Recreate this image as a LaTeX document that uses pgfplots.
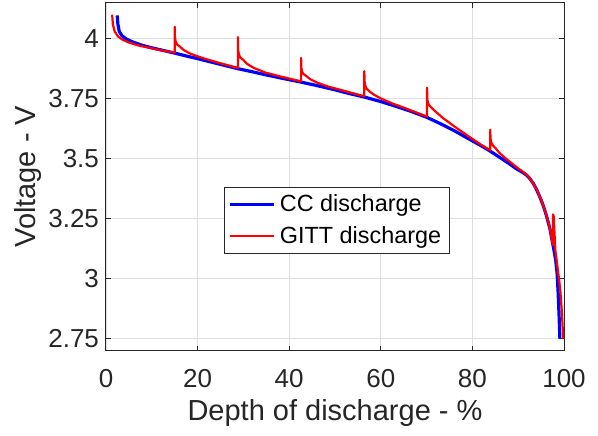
\documentclass[border=0pt]{standalone}
\usepackage{fontspec}
\setmainfont{Liberation Sans}
\usepackage{pgfplots}
\pgfplotsset{compat=1.18}
\usetikzlibrary{calc}
\definecolor{axgray}{gray}{0.15}
\definecolor{gridgray}{gray}{0.87}
\pgfplotstableread{
x y
2.45 4.097
2.6 4.06
2.9 4.03
3.5 4.012
4.5 3.998
6 3.985
8 3.972
10 3.962
12.5 3.951
15 3.94
17.5 3.928
20 3.917
22.5 3.905
25 3.893
28.8 3.875
32 3.862
35 3.849
38.5 3.835
42.6 3.819
46 3.805
50 3.787
53 3.772
56.4 3.757
60 3.738
63 3.72
66.5 3.698
70.1 3.672
73 3.646
76 3.617
79 3.585
82 3.553
84 3.53
86 3.505
88 3.48
89.6 3.458
90.8 3.445
91.8 3.432
92.5 3.418
93.3 3.397
94 3.372
95 3.328
95.6 3.297
96.2 3.26
96.9 3.21
97.3 3.17
97.8 3.12
98.2 3.076
98.5 3.02
98.7 2.95
98.9 2.86
99.1 2.75
}\cc
\pgfplotstableread{
x y
1.35 4.1
1.5 4.06
1.9 4.03
2.6 4.01
3.5 3.997
5 3.984
7 3.972
10 3.96
12.5 3.95
15.0 3.942
15.0 4.05
15.05 4.006
15.2 3.989
15.5 3.976
16.1 3.968
17 3.952
18.5 3.937
21 3.920
24 3.903
28.8 3.878
28.8 4.007
28.85 3.954
29.0 3.936
29.3 3.922
29.9 3.913
30.8 3.895
32.3 3.878
34.8 3.859
37.8 3.844
42.6 3.822
42.6 3.92
42.65 3.879
42.8 3.863
43.1 3.853
43.7 3.845
44.6 3.831
46.1 3.817
48.6 3.800
51.6 3.785
56.4 3.760
56.4 3.865
56.45 3.822
56.6 3.805
56.9 3.792
57.5 3.781
58.4 3.768
59.9 3.752
62.4 3.731
65.4 3.710
70.1 3.675
70.1 3.796
70.15 3.748
70.3 3.733
70.6 3.722
71.2 3.710
72.1 3.694
73.6 3.669
76.1 3.634
79.1 3.594
81.5 3.563
83.9 3.535
83.9 3.621
83.95 3.585
84.1 3.569
84.4 3.557
85.0 3.545
85.9 3.524
87.4 3.499
89.9 3.461
91 3.446
92 3.431
93 3.406
94 3.373
95 3.33
96 3.275
96.8 3.22
97.6 3.14
97.6 3.268
97.75 3.26
97.9 3.2
98.1 3.12
98.5 3.06
98.9 3.0
99.2 2.95
99.5 2.87
99.7 2.8
99.85 2.75
}\gitt
\begin{document}
\begin{tikzpicture}
\begin{axis}[name=ax,
 scale only axis, width=229pt, height=174pt,
 xmin=0, xmax=100, ymin=2.7, ymax=4.15,
 xtick={0,20,40,60,80,100},
 ytick={2.75,3,3.25,3.5,3.75,4},
 yticklabels={2.75,3,3.25,3.5,3.75,4},
 grid=major, major grid style={gridgray, line width=0.4pt},
 tick align=inside, major tick length=2.5pt,
 axis line style={axgray, line width=0.5pt},
 tick style={axgray, line width=0.5pt},
 ticklabel style={font=\fontsize{13}{15}\selectfont, text=axgray},
 xticklabel style={anchor=base, yshift=-18.5pt},
 /pgf/number format/assume math mode=true,
 xlabel={Depth of discharge - \%}, ylabel={Voltage - V},
 label style={font=\fontsize{14.5}{17}\selectfont, text=axgray},
 xlabel style={at={(axis description cs:0.5,-0.201)}, anchor=base},
 ylabel style={at={(axis description cs:-0.155,0.5)}, anchor=base, rotate=0},
 legend style={at={(axis description cs:0.258,0.471)}, anchor=north west,
   font=\fontsize{11.7}{14}\selectfont, draw=axgray, line width=0.5pt,
   inner xsep=2pt, inner ysep=1.5pt, row sep=2pt,
   cells={anchor=west}},
 legend image code/.code={\draw[#1] (0pt,0pt) -- (22pt,0pt);},
]
\addplot[blue, line width=1.6pt, line join=round] table[x=x,y=y] {\cc};
\addlegendentry{CC discharge}
\addplot[red, line width=1.1pt, line join=round] table[x=x,y=y] {\gitt};
\addlegendentry{GITT discharge}
\end{axis}
\pgfresetboundingbox
\path ($(ax.south west)+(-53pt,-42.15pt)$) rectangle ($(ax.north east)+(17pt,1.35pt)$);
\end{tikzpicture}
\end{document}
